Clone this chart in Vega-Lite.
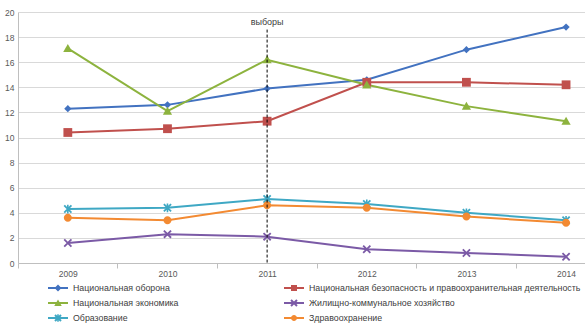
{
  "$schema": "https://vega.github.io/schema/vega-lite/v6.json",
  "width": 567,
  "height": 251,
  "autosize": "none",
  "padding": {"left": 18, "top": 12, "right": 0, "bottom": 67},
  "background": "white",
  "config": {"view": {"stroke": null}, "font": "Liberation Sans"},
  "data": {"values": [
    {"year": 2009, "series": "Национальная оборона", "value": 12.3},
    {"year": 2010, "series": "Национальная оборона", "value": 12.6},
    {"year": 2011, "series": "Национальная оборона", "value": 13.9},
    {"year": 2012, "series": "Национальная оборона", "value": 14.6},
    {"year": 2013, "series": "Национальная оборона", "value": 17.0},
    {"year": 2014, "series": "Национальная оборона", "value": 18.8},
    {"year": 2009, "series": "Национальная безопасность и правоохранительная деятельность", "value": 10.4},
    {"year": 2010, "series": "Национальная безопасность и правоохранительная деятельность", "value": 10.7},
    {"year": 2011, "series": "Национальная безопасность и правоохранительная деятельность", "value": 11.3},
    {"year": 2012, "series": "Национальная безопасность и правоохранительная деятельность", "value": 14.4},
    {"year": 2013, "series": "Национальная безопасность и правоохранительная деятельность", "value": 14.4},
    {"year": 2014, "series": "Национальная безопасность и правоохранительная деятельность", "value": 14.2},
    {"year": 2009, "series": "Национальная экономика", "value": 17.1},
    {"year": 2010, "series": "Национальная экономика", "value": 12.1},
    {"year": 2011, "series": "Национальная экономика", "value": 16.2},
    {"year": 2012, "series": "Национальная экономика", "value": 14.2},
    {"year": 2013, "series": "Национальная экономика", "value": 12.5},
    {"year": 2014, "series": "Национальная экономика", "value": 11.3},
    {"year": 2009, "series": "Жилищно-коммунальное хозяйство", "value": 1.6},
    {"year": 2010, "series": "Жилищно-коммунальное хозяйство", "value": 2.3},
    {"year": 2011, "series": "Жилищно-коммунальное хозяйство", "value": 2.1},
    {"year": 2012, "series": "Жилищно-коммунальное хозяйство", "value": 1.1},
    {"year": 2013, "series": "Жилищно-коммунальное хозяйство", "value": 0.8},
    {"year": 2014, "series": "Жилищно-коммунальное хозяйство", "value": 0.5},
    {"year": 2009, "series": "Образование", "value": 4.3},
    {"year": 2010, "series": "Образование", "value": 4.4},
    {"year": 2011, "series": "Образование", "value": 5.1},
    {"year": 2012, "series": "Образование", "value": 4.7},
    {"year": 2013, "series": "Образование", "value": 4.0},
    {"year": 2014, "series": "Образование", "value": 3.4},
    {"year": 2009, "series": "Здравоохранение", "value": 3.6},
    {"year": 2010, "series": "Здравоохранение", "value": 3.4},
    {"year": 2011, "series": "Здравоохранение", "value": 4.6},
    {"year": 2012, "series": "Здравоохранение", "value": 4.4},
    {"year": 2013, "series": "Здравоохранение", "value": 3.7},
    {"year": 2014, "series": "Здравоохранение", "value": 3.2}
  ]},
  "encoding": {
    "x": {
      "field": "year", "type": "quantitative",
      "scale": {"domain": [2008.5, 2014.19], "nice": false, "zero": false},
      "axis": {
        "values": [2009, 2010, 2011, 2012, 2013, 2014], "format": "d", "title": null,
        "grid": false, "tickOffset": -50, "labelOffset": 50, "tickSize": 5,
        "tickColor": "#bfbfbf", "domainColor": "#bfbfbf", "labelFontSize": 8.5,
        "labelColor": "#595959", "labelPadding": 1, "labelFlush": false, "labelOverlap": false
      }
    },
    "y": {
      "field": "value", "type": "quantitative",
      "scale": {"domain": [0, 20], "nice": false},
      "axis": {
        "values": [0, 2, 4, 6, 8, 10, 12, 14, 16, 18, 20], "title": null, "ticks": false,
        "gridColor": "#d9d9d9", "domainColor": "#bfbfbf", "labelPadding": 4,
        "labelFontSize": 8.5, "labelColor": "#595959"
      }
    },
    "color": {
      "field": "series", "type": "nominal",
      "scale": {
        "domain": ["Национальная оборона", "Национальная безопасность и правоохранительная деятельность", "Национальная экономика", "Жилищно-коммунальное хозяйство", "Образование", "Здравоохранение"],
        "range": ["#4272C0", "#C0504D", "#8DB33E", "#7B5AA6", "#3FA8C4", "#F38A32"]
      },
      "legend": {
        "title": null, "orient": "none", "legendX": 35, "legendY": 271, "columns": 2, "direction": "horizontal",
        "columnPadding": 105, "rowPadding": 5, "padding": 0, "labelLimit": 400,
        "labelFontSize": 8.8, "labelColor": "#404040", "labelOffset": 10,
        "symbolSize": 100, "symbolStrokeWidth": 0,
        "encode": {"symbols": {"update": {
          "fill": {"scale": "color", "field": "value"},
          "stroke": {"value": "transparent"},
          "opacity": {"value": 1},
          "shape": {"signal": "['M-2,-0.2V0.2H2V-0.2Z M0,-0.7L-0.7,0L0,0.7L0.7,0Z', 'M-2,-0.2V0.2H2V-0.2Z M-0.6,-0.6V0.6H0.6V-0.6Z', 'M-2,-0.2V0.2H2V-0.2Z M0,-0.7L-0.75,0.6H0.75Z', 'M-2,-0.2V0.2H2V-0.2Z M-0.74,-0.46L0.46,0.74L0.74,0.46L-0.46,-0.74ZM-0.74,0.46L-0.46,0.74L0.74,-0.46L0.46,-0.74Z', 'M-2,-0.2V0.2H2V-0.2Z M-0.74,-0.46L0.46,0.74L0.74,0.46L-0.46,-0.74ZM-0.74,0.46L-0.46,0.74L0.74,-0.46L0.46,-0.74ZM-0.15,-0.75V0.75H0.15V-0.75Z', 'M-2,-0.2V0.2H2V-0.2Z M-0.6,0A0.6,0.6,0,1,0,0.6,0A0.6,0.6,0,1,0,-0.6,0Z'][indexof(['Национальная оборона', 'Национальная безопасность и правоохранительная деятельность', 'Национальная экономика', 'Жилищно-коммунальное хозяйство', 'Образование', 'Здравоохранение'], datum.value)] || 'circle'"}
        }}}
      }
    }
  },
  "layer": [
    {"mark": {"type": "line", "strokeWidth": 2}},
    {
      "transform": [{"filter": "datum.series == 'Национальная оборона'"}],
      "mark": {"type": "point", "filled": true, "opacity": 1, "size": 64, "strokeWidth": 0, "shape": "M0,-0.9L0.9,0L0,0.9L-0.9,0Z"}
    },
    {
      "transform": [{"filter": "datum.series == 'Национальная безопасность и правоохранительная деятельность'"}],
      "mark": {"type": "point", "filled": true, "opacity": 1, "size": 64, "strokeWidth": 0, "shape": "M-1.1,-1.1H1.1V1.1H-1.1Z"}
    },
    {
      "transform": [{"filter": "datum.series == 'Национальная экономика'"}],
      "mark": {"type": "point", "filled": true, "opacity": 1, "size": 64, "strokeWidth": 0, "shape": "M0,-1.1L1.15,0.9H-1.15Z"}
    },
    {
      "transform": [{"filter": "datum.series == 'Жилищно-коммунальное хозяйство'"}],
      "mark": {"type": "point", "filled": true, "opacity": 1, "size": 64, "strokeWidth": 0, "shape": "M-1.06,-0.74L0.74,1.06L1.06,0.74L-0.74,-1.06ZM-1.06,0.74L-0.74,1.06L1.06,-0.74L0.74,-1.06Z"}
    },
    {
      "transform": [{"filter": "datum.series == 'Образование'"}],
      "mark": {"type": "point", "filled": true, "opacity": 1, "size": 64, "strokeWidth": 0, "shape": "M-1.06,-0.74L0.74,1.06L1.06,0.74L-0.74,-1.06ZM-1.06,0.74L-0.74,1.06L1.06,-0.74L0.74,-1.06ZM-0.2,-1.1V1.1H0.2V-1.1Z"}
    },
    {
      "transform": [{"filter": "datum.series == 'Здравоохранение'"}],
      "mark": {"type": "point", "filled": true, "opacity": 1, "size": 64, "strokeWidth": 0, "shape": "M-1,0A1,1,0,1,0,1,0A1,1,0,1,0,-1,0Z"}
    },
    {
      "transform": [{"filter": "datum.series == 'Образование' && datum.year == 2011"}],
      "mark": {"type": "rule", "color": "#000000", "strokeWidth": 1, "strokeDash": [3, 2]},
      "encoding": {"y": {"datum": 18.6}, "y2": {"datum": 0}, "color": null}
    },
    {
      "transform": [{"filter": "datum.series == 'Образование' && datum.year == 2011"}],
      "mark": {"type": "text", "fontSize": 9, "color": "#404040", "font": "Liberation Sans"},
      "encoding": {"y": {"datum": 19.2}, "text": {"value": "выборы"}, "color": null}
    }
  ]
}
